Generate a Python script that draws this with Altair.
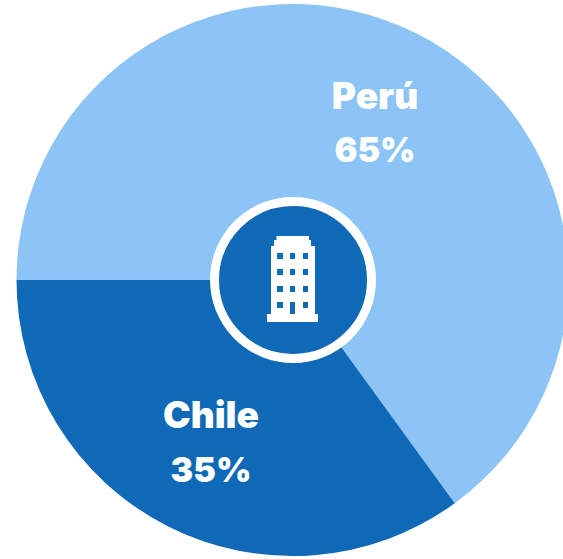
import altair as alt
import pandas as pd

countries = ["Perú", "Chile"]
shares = [65, 35]
percent_labels = ["65%", "35%"]
colors = ["#8CC4F6", "#0F69B6"]

FONT = "Inter"
CX, CY = 292.5, 280

df = pd.DataFrame({"country": countries, "share": shares, "pct": percent_labels, "order": [0, 1]})

TAU = 6.283185307
pie = alt.Chart(df).mark_arc(outerRadius=276, stroke=None).encode(
    theta=alt.Theta("share:Q", stack=True, scale=alt.Scale(range=[TAU * 0.75, TAU * 1.75])),
    order=alt.Order("order:Q"),
    color=alt.Color("country:N", scale=alt.Scale(domain=countries, range=colors), legend=None),
    x=alt.value(CX),
    y=alt.value(CY),
)

hub = alt.Chart(df.head(1)).mark_point(
    shape="circle", filled=True, fill=colors[1], stroke="white", strokeWidth=9, size=24649, opacity=1
).encode(x=alt.value(CX + 0.5), y=alt.value(CY))


def rect(x0, y0, x1, y1, cw=True):
    pts = [(x0, y0), (x1, y0), (x1, y1), (x0, y1)] if cw else [(x0, y0), (x0, y1), (x1, y1), (x1, y0)]
    return "M" + "L".join(f"{(x - 293) / 100:.3f},{(y - 280) / 100:.3f}" for x, y in pts) + "Z"


outline = (
    "M" + "L".join(
        f"{(x - 293) / 100:.3f},{(y - 280) / 100:.3f}"
        for x, y in [
            (276.5, 236), (309, 236), (309, 240), (311, 240), (311, 246), (315, 246), (315, 314),
            (318, 314), (318, 322), (267, 322), (267, 314), (271, 314), (271, 246), (274, 246),
            (274, 240), (276.5, 240),
        ]
    ) + "Z"
)
windows = ""
for y0, y1 in [(253, 259), (269, 275), (286, 292), (302, 308)]:
    for x0, x1 in [(277, 283), (290, 295), (303, 308)]:
        if y0 == 302 and x0 == 290:
            windows += rect(290, 302, 295, 314, cw=False)
        else:
            windows += rect(x0, y0, x1, y1, cw=False)

icon = alt.Chart(df.head(1)).mark_point(
    shape=outline + windows, filled=True, fill="white", stroke=None, size=40000, opacity=1
).encode(x=alt.value(CX + 0.5), y=alt.value(CY))

name_x = [375, 211]
name_y = [98, 417]
pct_y = [152, 472]
lab = df.assign(nx=name_x, ny=name_y, py=pct_y)

names = alt.Chart(lab).mark_text(font=FONT, fontWeight=900, fontSize=37, color="white", align="center", baseline="middle").encode(
    text="country:N",
    x=alt.X("nx:Q", scale=None),
    y=alt.Y("ny:Q", scale=None),
)
pcts = alt.Chart(lab).mark_text(font=FONT, fontWeight=900, fontSize=34, color="white", align="center", baseline="middle").encode(
    text="pct:N",
    x=alt.X("nx:Q", scale=None),
    y=alt.Y("py:Q", scale=None),
)

chart = (
    alt.layer(pie, hub, icon, names, pcts)
    .properties(width=563, height=559, padding=0, autosize=alt.AutoSizeParams(type="none"))
    .configure_view(stroke=None)
)
chart.save("out.html", embed_options={
    "renderer": "svg",
    "actions": False,
    "defaultStyle": "body{margin:0 !important} #vis.vega-embed{display:block !important} html,body,#vis,#vis *{overflow:visible !important;max-width:none !important}",
})
